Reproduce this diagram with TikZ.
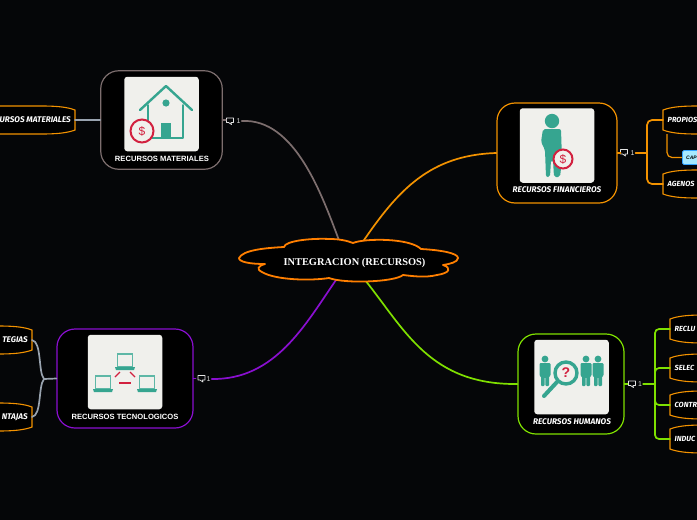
\documentclass[tikz,border=0pt]{standalone}
\usepackage{fontspec}
\setmainfont{Liberation Sans}
\newfontfamily\rootfont{Liberation Serif}
\newfontfamily\handfont{Fira Sans}
\definecolor{bgc}{HTML}{050608}
\definecolor{cardc}{HTML}{F0F0EC}
\definecolor{teal}{HTML}{36A590}
\definecolor{redc}{HTML}{D2213F}
\definecolor{orangec}{HTML}{F39200}
\definecolor{rootc}{HTML}{FF7F00}
\definecolor{brownc}{HTML}{7D6E6E}
\definecolor{greenc}{HTML}{7FE000}
\definecolor{purplec}{HTML}{8A0FD0}
\definecolor{greyc}{HTML}{99A3AF}
\tikzset{
  x=1pt,y=-1pt,
  bigbox/.style={rectangle,rounded corners=18pt,line width=1.2pt,fill=black,inner sep=0pt},
  cardbox/.style={rectangle,rounded corners=3pt,fill=cardc,inner sep=0pt,minimum width=74.5pt,minimum height=74.5pt},
  titlea/.style={text=white,font=\bfseries\fontsize{7.6}{8}\selectfont,inner sep=0pt},
  titleb/.style={text=white,font=\handfont\bfseries\itshape\fontsize{8.2}{9}\selectfont,inner sep=0pt},
  chipline/.style={draw=orangec,fill=black,line width=1.1pt},
  chipR/.style={text=white,font=\handfont\bfseries\itshape\fontsize{7.4}{9}\selectfont,anchor=west,inner xsep=4.5pt,inner ysep=2pt},
  chipL/.style={titleb,anchor=east,inner xsep=4pt,inner ysep=2pt},
  cmt/.style={text=white!85!black,font=\fontsize{7}{8}\selectfont,inner sep=1pt},
  bubble/.style={draw=white!90!black,line width=0.7pt,line join=round},
  link/.style={line width=1.7pt,line cap=round},
  icon/.style={teal,line width=2.4pt,line cap=round,line join=round},
  redl/.style={redc,line width=1.3pt},
}
\newcommand{\rchip}[4]{% name, left x, centre y, text
  \draw[chipline] (#2,#3-10) .. controls (#2+8,#3-13) and (#2+18,#3-14) .. (#2+34,#3-14) -- (720,#3-14) -- (720,#3+14) -- (#2+34,#3+14) .. controls (#2+18,#3+14) and (#2+8,#3+13) .. (#2,#3+10) -- cycle;
  \node[chipR] (#1) at (#2,#3) {#4};}
\newcommand{\lchip}[4]{% name, right x, centre y, text
  \draw[chipline] (#2,#3-10) .. controls (#2-8,#3-13) and (#2-18,#3-14) .. (#2-34,#3-14) -- (-20,#3-14) -- (-20,#3+14) -- (#2-34,#3+14) .. controls (#2-18,#3+14) and (#2-8,#3+13) .. (#2,#3+10) -- cycle;
  \node[chipL] (#1) at (#2,#3) {#4};}
\newcommand{\bubbleat}[2]{%
  \draw[bubble] (#1-3.5,#2-3) -- (#1+3.5,#2-3) -- (#1+3.5,#2+1.5) -- (#1+1,#2+1.5) -- (#1+1.5,#2+3.5) -- (#1-1.5,#2+1.5) -- (#1-3.5,#2+1.5) -- cycle;}
\newcommand{\person}[2]{% centre x, top y
  \fill[teal] (#1,#2+3) circle (3.4);
  \fill[teal,rounded corners=1pt] (#1-5.5,#2+7) -- (#1+5.5,#2+7) -- (#1+5.5,#2+20) -- (#1+4,#2+20) -- (#1+4,#2+30) -- (#1+0.4,#2+30) -- (#1+0.4,#2+21) -- (#1-0.4,#2+21) -- (#1-0.4,#2+30) -- (#1-4,#2+30) -- (#1-4,#2+20) -- (#1-5.5,#2+20) -- cycle;}
\newcommand{\laptop}[2]{% centre x, centre y
  \draw[teal!80!white,line width=1.1pt,fill=cardc] (#1-7.5,#2-7) rectangle (#1+7.5,#2+6);
  \fill[teal] (#1-10,#2+6) -- (#1+10,#2+6) -- (#1+9,#2+9) -- (#1-9,#2+9) -- cycle;}
\newcommand{\coin}[3]{% x, y, radius
  \draw[redc,line width=2pt,fill=cardc] (#1,#2) circle (#3);
  \node[text=redc,font=\fontsize{12}{12}\selectfont,inner sep=0pt] at (#1,#2) {\$};}
\begin{document}
\begin{tikzpicture}
\useasboundingbox (0,0) rectangle (697,520);
\clip (0,0) rectangle (697,520);
\fill[bgc] (0,0) rectangle (697,520);

% anchors on the central cloud
\coordinate (rootN1) at (340,243);
\coordinate (rootN2) at (362,243);
\coordinate (rootS1) at (336,280);
\coordinate (rootS2) at (365,280);

% main boxes
\node[bigbox,draw=brownc,minimum width=121.5pt,minimum height=98.5pt] (rm) at (161.5,120) {};
\node[bigbox,draw=orangec,minimum width=120pt,minimum height=100pt] (rf) at (557,153) {};
\node[bigbox,draw=greenc,minimum width=106pt,minimum height=100pt] (rh) at (571,384) {};
\node[bigbox,draw=purplec,minimum width=136pt,minimum height=99pt] (rt) at (125,378.5) {};

% comment counters
\node[cmt] (c1) at (238.5,121) {1};
\node[cmt] (c2) at (632.5,153) {1};
\node[cmt] (c3) at (640,384) {1};
\node[cmt] (c4) at (208.5,379) {1};
\bubbleat{230}{121}
\bubbleat{624}{152.5}
\bubbleat{632}{384}
\bubbleat{201.5}{378.5}

% curved branches to the centre
\draw[link,brownc] (c1.east) .. controls (295,118) and (322,195) .. (rootN1);
\draw[link,orangec] (rf.west) .. controls (430,155) and (398,190) .. (rootN2);
\draw[link,greenc] (rh.west) .. controls (430,385) and (405,330) .. (rootS2);
\draw[link,purplec] (c4.east) .. controls (275,380) and (305,325) .. (rootS1);

% stubs
\draw[link,brownc] (rm.east) -- ++(3,0);
\draw[link,orangec] (rf.east) -- ++(3,0);
\draw[link,greenc] (rh.east) -- ++(3,0);
\draw[link,purplec] (rt.east) -- ++(2,0);

% central cloud
\draw[rootc,fill=black,line width=1.8pt,line join=round]
  (239,258) .. controls (243,250) and (265,248) .. (284,247)
  .. controls (285,241) and (310,238) .. (330,239)
  .. controls (340,239) and (348,241) .. (353,243)
  .. controls (365,238) and (410,238) .. (421,249)
  .. controls (440,250) and (458,253) .. (458,258)
  .. controls (458,262) and (450,264) .. (443,265)
  .. controls (452,268) and (450,273) .. (437,275)
  .. controls (425,278) and (412,276) .. (403,275)
  .. controls (395,282) and (345,284) .. (329,278)
  .. controls (310,281) and (275,280) .. (262,272)
  .. controls (256,269) and (258,266) .. (265,264)
  .. controls (250,264) and (239,262) .. (239,258) -- cycle;
\node[text=white,font=\rootfont\bfseries\fontsize{10.4}{12}\selectfont,inner sep=0pt] (root) at (354.5,262.5) {INTEGRACION (RECURSOS)};

% cards
\node[cardbox] (cardm) at (161.5,114) {};
\node[cardbox] (cardf) at (557,145.5) {};
\node[cardbox] (cardh) at (571.5,377) {};
\node[cardbox] (cardt) at (125,372) {};

% icon: house
\draw[icon] (140,110) -- (166,86) -- (192,110);
\draw[icon,line width=1.8pt] (148,105) -- (148,122);
\draw[icon,line width=1.8pt] (183,105) -- (183,138) -- (152,138);
\fill[teal] (161,123) rectangle (171,138);
\fill[teal] (166,103) circle (3.6);
\coin{142}{131}{11.5}

% icon: person with coin
\fill[teal] (552,121) circle (7.2);
\fill[teal,rounded corners=2pt] (543,129) -- (561,129) -- (562,160) -- (560,177) -- (554,177) -- (553,160) -- (551,160) -- (550,177) -- (546,177) -- (545,150) -- (541,142) -- cycle;
\coin{563}{159}{9.5}

% icon: people and magnifier
\person{545}{356}
\person{586}{356}
\person{598}{356}
\draw[teal,line width=3.4pt,fill=cardc] (566,373) circle (11);
\draw[teal,line width=4pt,line cap=round] (557,382) -- (544,396);
\node[text=redc,font=\bfseries\fontsize{14}{14}\selectfont,inner sep=0pt] at (566,373) {?};

% icon: networked laptops
\laptop{125}{361}
\laptop{103}{383}
\laptop{147}{383}
\draw[redl] (115,377) -- (120,372);
\draw[redl] (130,372) -- (135,377);
\draw[redl] (119,383) -- (131,383);

% box titles
\node[titlea] (tm) at (162,159) {RECURSOS MATERIALES};
\node[titleb] (tf) at (557,189.5) {RECURSOS FINANCIEROS};
\node[titleb] (th) at (572,421.5) {RECURSOS HUMANOS};
\node[titlea] (tt) at (125,417) {RECURSOS TECNOLOGICOS};

% leaf chips
\lchip{lm}{75}{120}{URSOS MATERIALES}
\lchip{le}{32}{340}{TEGIAS}
\lchip{lv}{32}{417}{NTAJAS}
\rchip{pr}{663}{120}{PROPIOS}
\rchip{ag}{663}{184}{AGENOS}
\rchip{re}{670}{329}{RECLU}
\rchip{se}{670}{368}{SELEC}
\rchip{co}{670}{405}{CONTR}
\rchip{in}{670}{439}{INDUC}

% blue tag
\node[draw=blue!45!cyan!80!white,fill=blue!25!cyan!35!white,rounded corners=1.5pt,line width=0.8pt,anchor=west,minimum width=30pt,minimum height=14pt,inner sep=0pt] (cap) at (682,157.5) {};
\node[anchor=west,text=black,font=\bfseries\itshape\fontsize{5}{6}\selectfont,inner sep=0pt] (captext) at (686,157.5) {CAP};

% forks
\coordinate (fm) at (647,153);
\coordinate (fh) at (655,384);
\coordinate (ft) at (44,379);
\coordinate (prb) at (667,134);
\draw[link,orangec] (c2.east) -- (fm);
\draw[link,orangec,rounded corners=5pt] (fm) |- (pr.west);
\draw[link,orangec,rounded corners=5pt] (fm) |- (ag.west);
\draw[orangec,line width=1.2pt,rounded corners=5pt] (prb) |- (cap.west);
\draw[link,greenc] (c3.east) -- (fh);
\draw[link,greenc,rounded corners=4pt] (fh) |- (re.west);
\draw[link,greenc,rounded corners=4pt] (fh) |- (se.west);
\draw[link,greenc,rounded corners=4pt] (fh) |- (co.west);
\draw[link,greenc,rounded corners=4pt] (fh) |- (in.west);
\draw[link,greyc] (rm.west) -- (lm.east);
\draw[link,greyc] (rt.west) -- (ft);
\draw[link,greyc] (ft) .. controls (38,372) and (42,342) .. (le.east);
\draw[link,greyc] (ft) .. controls (38,386) and (42,415) .. (lv.east);
\end{tikzpicture}
\end{document}
